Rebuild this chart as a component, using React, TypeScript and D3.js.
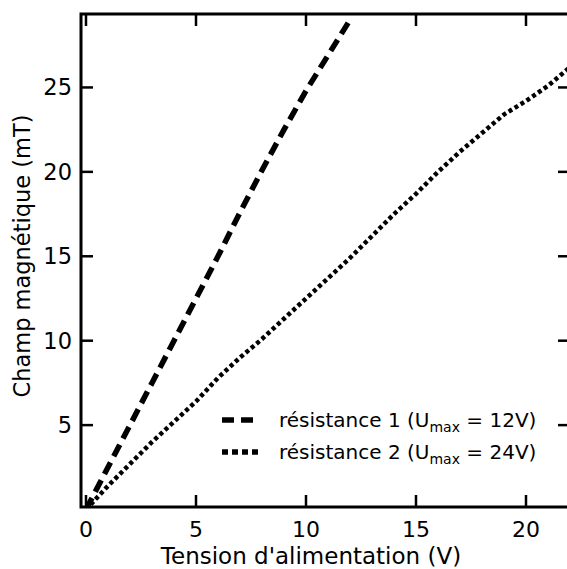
import React from "react";
import * as d3 from "d3";

const voltage1 = [0, 1, 2, 3, 4, 5, 6, 7, 8, 9, 10, 11, 12];
const field1 = [0, 2.5, 5.0, 7.5, 10.0, 12.5, 15.0, 17.6, 20.1, 22.5, 24.8, 26.9, 29.0];

const voltage2 = [0, 1, 2, 3, 4, 5, 6, 7, 8, 9, 10, 11, 12, 13, 14, 15, 16, 17, 18, 19, 20, 21, 22];
const field2 = [0, 1.4, 2.7, 4.0, 5.2, 6.4, 7.8, 9.0, 10.1, 11.3, 12.5, 13.7, 14.9, 16.2, 17.5, 18.7, 20.0, 21.2, 22.3, 23.4, 24.2, 25.1, 26.2];

const xTicks = [0, 5, 10, 15, 20];
const yTicks = [5, 10, 15, 20, 25];

const seriesNames = ["résistance 1", "résistance 2"];
const umaxValues = ["12V", "24V"];

const FONT = "DejaVu Sans, sans-serif";

export default function App() {
  const W = 567, H = 569;
  const left = 81, right = 570, top = 14, bottom = 507;
  const x = d3.scaleLinear().domain([-0.227, 22]).range([left, right]);
  const y = d3.scaleLinear().domain([0.15, 29.35]).range([bottom, top]);

  const line = d3
    .line<[number, number]>()
    .x((d) => x(d[0]))
    .y((d) => y(d[1]));

  const d1 = line(voltage1.map((v, i) => [v, field1[i]] as [number, number])) || "";
  const d2 = line(voltage2.map((v, i) => [v, field2[i]] as [number, number])) || "";

  const tickLen = 12;
  const legendRows = [
    { name: seriesNames[0], umax: umaxValues[0], dash: "12,7", sw: 5.5, cy: 420 },
    { name: seriesNames[1], umax: umaxValues[1], dash: "6,4", sw: 5.5, cy: 452 },
  ];

  return (
    <svg
      width={W}
      height={H}
      style={{ position: "absolute", left: 0, top: 0, background: "#fff" }}
      fontFamily={FONT}
    >
      <defs>
        <clipPath id="plotclip">
          <rect x={left} y={top} width={right - left} height={bottom - top} />
        </clipPath>
      </defs>
      <g clipPath="url(#plotclip)">
        <path d={d1} fill="none" stroke="#000" strokeWidth={5.5} strokeDasharray="13,7" />
        <path d={d2} fill="none" stroke="#000" strokeWidth={4.5} strokeDasharray="4,3" />
      </g>

      {/* ticks */}
      {xTicks.map((t) => (
        <g key={"xt" + t}>
          <line x1={x(t)} x2={x(t)} y1={bottom} y2={bottom - tickLen} stroke="#000" strokeWidth={2.5} />
          <line x1={x(t)} x2={x(t)} y1={top} y2={top + tickLen} stroke="#000" strokeWidth={2.5} />
          <text x={x(t)} y={537} textAnchor="middle" fontSize={22}>
            {t}
          </text>
        </g>
      ))}
      {yTicks.map((t) => (
        <g key={"yt" + t}>
          <line x1={left} x2={left + tickLen} y1={y(t)} y2={y(t)} stroke="#000" strokeWidth={2.5} />
          <line x1={right} x2={right - tickLen} y1={y(t)} y2={y(t)} stroke="#000" strokeWidth={2.5} />
          <text x={72} y={y(t) + 8} textAnchor="end" fontSize={22.5}>
            {t}
          </text>
        </g>
      ))}

      {/* frame */}
      <rect x={left} y={top} width={right - left} height={bottom - top} fill="none" stroke="#000" strokeWidth={3} />

      {/* axis titles */}
      <text x={311} y={563.5} textAnchor="middle" fontSize={23}>
        Tension d'alimentation (V)
      </text>
      <text
        transform={`translate(30, ${256}) rotate(-90)`}
        textAnchor="middle"
        fontSize={22.5}
      >
        Champ magnétique (mT)
      </text>

      {/* legend */}
      {legendRows.map((r) => (
        <g key={r.name}>
          <line x1={222} x2={259} y1={r.cy} y2={r.cy} stroke="#000" strokeWidth={r.sw} strokeDasharray={r.dash} />
          <text x={279} y={r.cy + 7} fontSize={20}>
            {r.name} (U
            <tspan fontSize={14} dy={5}>max</tspan>
            <tspan dy={-5}> = {r.umax})</tspan>
          </text>
        </g>
      ))}
    </svg>
  );
}
